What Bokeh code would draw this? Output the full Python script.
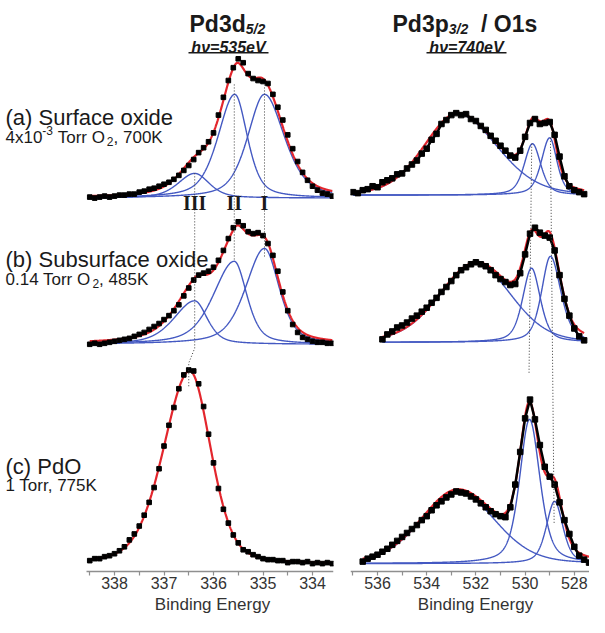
import numpy as np
from bokeh.plotting import figure
from bokeh.layouts import row
from bokeh.models import Range1d, FixedTicker, Label
from bokeh.embed import file_html
from bokeh.resources import INLINE

# ---------------- data ----------------
# Pd3d5/2 panel: energy grid (eV) and intensities above each spectrum's baseline
PD_E_START, PD_E_STOP, PD_E_STEP = 338.5, 333.6, 0.1
PD_A = [1, 0, 1, 2, 1, 2, 3, 3, 4, 4, 6, 7, 9, 10, 12, 14, 16, 19, 23, 28, 33, 39, 46, 51, 57,
        66, 84, 102, 119, 132, 141, 137, 126, 121, 119, 118, 116, 105, 92, 79, 64, 50, 37, 26, 18,
        12, 8, 5, 4, 2]
PD_B = [0, 1, 0, 1, 2, 3, 4, 5, 6, 8, 10, 12, 15, 18, 21, 25, 29, 34, 40, 49, 57, 65, 70, 72, 74,
        78, 85, 95, 107, 118, 124, 120, 114, 112, 113, 110, 102, 90, 74, 53, 34, 20, 12, 7, 5,
        3, 2, 2, 1, 1]
PD_C = [4, 6, 6, 8, 9, 11, 14, 18, 25, 31, 39, 50, 63, 78, 97, 120, 141, 159, 178, 192, 197, 196,
        183, 160, 132, 103, 77, 56, 42, 30, 22, 15, 13, 10, 8, 6, 5, 5, 4, 4, 2, 3, 3, 2, 3,
        1, 2, 1, 2, 1]
PD_OFFSETS = [378, 230, 7]          # stacking baselines of (a), (b), (c)

# fitted components: centre, height, left/right FWHM, Lorentzian fraction
PDA_CENTER, PDA_HEIGHT = [334.97, 335.57, 336.38], [105, 105, 25]
PDA_WL, PDA_WR, PDA_ETA = [0.80, 0.80, 0.80], [0.95, 0.60, 0.70], [0.5, 0.5, 0.5]
PDB_CENTER, PDB_HEIGHT = [334.97, 335.58, 336.38], [97, 84, 44]
PDB_WL, PDB_WR, PDB_ETA = [0.90, 1.00, 1.00], [0.70, 0.60, 0.60], [0.5, 0.5, 0.5]
PDC_CENTER, PDC_HEIGHT = [336.48], [196]
PDC_WL, PDC_WR, PDC_ETA = [1.25], [1.00], [0.3]

# Pd3p3/2 / O1s panel
O_STEP = 0.2
OA_START, OA_STOP = 537.0, 527.6
OB_START, OB_STOP = 535.8, 527.6
OC_START, OC_STOP = 536.6, 527.4
O_A = [3, 2, 5, 6, 9, 8, 13, 15, 17, 21, 22, 27, 31, 35, 42, 47, 56, 62, 72, 76, 81, 83, 81, 82,
       77, 75, 70, 66, 60, 55, 50, 45, 40, 38, 45, 59, 73, 77, 72, 73, 74, 61, 39, 19, 9, 5, 3, 1]
O_B = [3, 8, 11, 15, 17, 20, 24, 27, 31, 35, 40, 45, 51, 56, 62, 68, 73, 76, 79, 81, 79, 77, 73,
       68, 64, 61, 58, 59, 70, 89, 110, 116, 111, 108, 106, 93, 68, 44, 27, 14, 6, 2]
O_C = [2, 5, 7, 9, 12, 15, 19, 23, 27, 31, 35, 39, 44, 48, 54, 59, 63, 67, 70, 73, 72, 71, 68, 65,
       61, 57, 53, 50, 48, 47, 57, 80, 113, 147, 166, 146, 120, 98, 88, 80, 62, 44, 30, 17, 8, 4, 1]
O_OFFSETS = [381, 232, 8]

OA_CENTER, OA_HEIGHT = [532.75, 529.70, 529.00], [82, 52, 58]
OA_WL, OA_WR, OA_ETA = [3.2, 0.8, 0.8], [3.8, 0.8, 0.7], [0.2, 0.5, 0.5]
OB_CENTER, OB_HEIGHT = [532.00, 529.74, 528.97], [79, 75, 87]
OB_WL, OB_WR, OB_ETA = [3.5, 0.85, 0.85], [3.4, 0.85, 1.0], [0.2, 0.5, 0.5]
OC_CENTER, OC_HEIGHT = [532.75, 529.82, 528.80], [73, 146, 63]
OC_WL, OC_WR, OC_ETA = [3.5, 0.95, 0.8], [3.6, 1.0, 0.8], [0.2, 0.5, 0.5]

# peak-position guide lines (eV, intensity)
PD_GUIDES = [([334.97, 334.97], [493, 318]),
             ([335.58, 335.58], [493, 314]),
             ([336.38, 336.38, 336.50, 336.50], [403, 226, 211, 186])]
PD_GUIDE_LABELS = ["I", "II", "III"]
PD_GUIDE_LABEL_E = [334.97, 335.58, 336.38]
O_GUIDES = [([529.73, 529.84], [433, 201]),
            ([528.97, 528.82], [439, 49])]

PD_TICKS, PD_MINOR = [334, 335, 336, 337, 338], [333.5, 334.5, 335.5, 336.5, 337.5, 338.5]
O_TICKS, O_MINOR = [528, 530, 532, 534, 536], [527, 529, 531, 533, 535, 537]
X_TITLE = "Binding Energy"

# ---------------- styling / layout ----------------
BLUE, RED, INK, GUIDE = "#4459c2", "#e3262d", "#1a1a1a", "#3a3a3a"
TOP, REF_AXIS_Y, BOTTOM = 8, 586, 625   # page y: canvas top, reference axis line, canvas bottom
AXIS_PAGE = 579                          # where our axis line is drawn (room for the x title)
XTITLE_PAGE = 611.5                      # baseline of "Binding Energy"
L_PX_PER_EV, R_PX_PER_EV = 49.5, 24.6
L_FRAME_LEFT, R_FRAME_LEFT = 8, 358
L_FRAME_RIGHT, R_FRAME_RIGHT = 341, 597
L_E0 = 338 + (122 - L_FRAME_LEFT) / L_PX_PER_EV
R_E0 = 536 + (385 - R_FRAME_LEFT) / R_PX_PER_EV
H = BOTTOM - TOP
W1 = 350 - L_FRAME_LEFT
W2 = R_FRAME_RIGHT - 350


def lx(px):
    return L_E0 - (px - L_FRAME_LEFT) / L_PX_PER_EV


def rx(px):
    return R_E0 - (px - R_FRAME_LEFT) / R_PX_PER_EV


def Y(py):
    return REF_AXIS_Y - py


V_TOP = Y(TOP)
SCALE = (AXIS_PAGE - TOP) / V_TOP                  # px per intensity unit
V_BOTTOM = -(BOTTOM - AXIS_PAGE) / SCALE
V_XTITLE = -(XTITLE_PAGE - AXIS_PAGE) / SCALE

AR = {' ': 278, '(': 333, ')': 333, ',': 278, '-': 333, '.': 278, '/': 278, '=': 584, 'K': 667,
      'O': 778, 'P': 667, 'S': 667, 'T': 611, 'a': 556, 'b': 556, 'c': 500, 'd': 556, 'e': 556,
      'f': 278, 'i': 222, 'n': 556, 'o': 556, 'r': 333, 's': 500, 'u': 556, 'x': 500}
ARB = {' ': 278, '/': 278, 'O': 778, 'P': 667, 'd': 611, 'p': 611, 's': 556}


def tw(s, size, bold=False):
    tab = ARB if bold else AR
    return sum(tab.get(ch, 556) for ch in s) * size / 1000.0


def txt(p, x, y, s, size, style="normal", font="Liberation Sans", align="left",
        xoff=0, yoff=0, color=INK):
    p.add_layout(Label(x=x, y=y, text=s, text_font=font, text_font_size=f"{size}px",
                       text_font_style=style, text_align=align, text_baseline="alphabetic",
                       x_offset=xoff, y_offset=yoff, text_color=color))


def pieces(p, x, y, parts):
    off = 0.0
    for s, size, style, dy in parts:
        bold = "bold" in style
        lead = len(s) - len(s.lstrip(" "))
        off += tw(" " * lead, size, bold)
        body = s.lstrip(" ")
        txt(p, x, y, body, size, style=style, xoff=off, yoff=dy)
        off += tw(body, size, bold)


def pv(E, c, h, wl, wr, eta):
    w = np.where(E >= c, wl, wr)
    u = (E - c) / w
    return h * ((1 - eta) * np.exp(-4 * np.log(2) * u * u) + eta / (1 + 4 * u * u))


def spectrum(p, E, vals, off, centers, heights, wls, wrs, etas, comps_on, msize, band):
    E = np.asarray(E)
    Ed = np.linspace(E[0], E[-1], 900)
    comps = [pv(Ed, c, h, a, b, e) for c, h, a, b, e in zip(centers, heights, wls, wrs, etas)]
    if comps_on:
        for comp in comps:
            p.line(Ed, off + comp, color=BLUE, line_width=1.4)
    p.line(Ed, off + np.sum(comps, axis=0), color=RED, line_width=2.2)
    yv = off + np.asarray(vals, dtype=float)
    if band:
        p.line(E, yv, color="black", line_width=band)
    p.scatter(E, yv, marker="square", size=msize, color="black", line_color="black")


def make_fig(width, x_range, border_left, border_right):
    p = figure(width=width, height=H, x_range=x_range,
               y_range=Range1d(V_BOTTOM, V_TOP),
               output_backend="svg", toolbar_location=None, y_axis_location=None)
    p.min_border_left, p.min_border_right = border_left, border_right
    p.min_border_top, p.min_border_bottom = 0, 0
    p.xgrid.visible = False
    p.ygrid.visible = False
    p.outline_line_color = None
    p.background_fill_color = "white"
    p.border_fill_color = "white"
    ax = p.xaxis[0]
    ax.fixed_location = 0          # axis line sits on intensity 0, labels below it
    ax.axis_line_color = "#8f8f8f"
    ax.axis_line_width = 1.6
    ax.major_tick_line_color = "#8f8f8f"
    ax.minor_tick_line_color = "#8f8f8f"
    ax.major_tick_line_width = 1.2
    ax.minor_tick_line_width = 1.2
    ax.major_tick_in, ax.major_tick_out = 0, 4
    ax.minor_tick_in, ax.minor_tick_out = 0, 4
    ax.major_label_text_font = "Liberation Sans"
    ax.major_label_text_font_size = "16px"
    ax.major_label_text_color = "#333333"
    ax.major_label_standoff = 1
    return p


# ---------------- left panel: Pd3d5/2 ----------------
p1 = make_fig(W1, Range1d(L_E0, lx(L_FRAME_RIGHT)), 0, 350 - L_FRAME_RIGHT)
p1.xaxis[0].bounds = (lx(L_FRAME_RIGHT), lx(94))
p1.xaxis[0].ticker = FixedTicker(ticks=PD_TICKS, minor_ticks=PD_MINOR)

pd_E = np.round(np.arange(PD_E_START, PD_E_STOP - 1e-6, -PD_E_STEP), 2)
spectrum(p1, pd_E, PD_A, PD_OFFSETS[0], PDA_CENTER, PDA_HEIGHT, PDA_WL, PDA_WR, PDA_ETA, True, 4.6, 0)
spectrum(p1, pd_E, PD_B, PD_OFFSETS[1], PDB_CENTER, PDB_HEIGHT, PDB_WL, PDB_WR, PDB_ETA, True, 4.6, 0)
spectrum(p1, pd_E, PD_C, PD_OFFSETS[2], PDC_CENTER, PDC_HEIGHT, PDC_WL, PDC_WR, PDC_ETA, False, 4.6, 0)
for gx, gy in PD_GUIDES:
    p1.line(gx, gy, color=GUIDE, line_width=1, line_dash="1 2")
for lab, e in zip(PD_GUIDE_LABELS, PD_GUIDE_LABEL_E):
    txt(p1, e, Y(213), lab, 20, style="bold", font="Liberation Serif", align="center")

pieces(p1, lx(197), Y(32), [("Pd3d", 23, "bold", 0), ("5/2", 14, "bold italic", -5)])
txt(p1, lx(236), Y(56), "h\u03bd=535eV", 16, style="bold italic", align="center")
p1.line([lx(196), lx(276)], [Y(61), Y(61)], color=INK, line_width=1.5)

txt(p1, lx(13), Y(126), "(a) Surface oxide", 22)
pieces(p1, lx(13), Y(147), [("4x10", 17, "normal", 0), ("-3", 12, "normal", 7),
                            (" Torr O", 17, "normal", 0), ("2", 12, "normal", -4),
                            (", 700K", 17, "normal", 0)])
txt(p1, lx(13), Y(270), "(b) Subsurface oxide", 22)
pieces(p1, lx(13), Y(290), [("0.14 Torr O", 17, "normal", 0), ("2", 12, "normal", -4),
                            (", 485K", 17, "normal", 0)])
txt(p1, lx(13), Y(480), "(c) PdO", 22)
txt(p1, lx(13), Y(499), "1 Torr, 775K", 17)
txt(p1, lx(220), V_XTITLE, X_TITLE, 17, align="center", color="#333333")

# ---------------- right panel: Pd3p3/2 / O1s ----------------
p2 = make_fig(W2, Range1d(R_E0, rx(R_FRAME_RIGHT)), R_FRAME_LEFT - 350, 0)
p2.xaxis[0].ticker = FixedTicker(ticks=O_TICKS, minor_ticks=O_MINOR)

oa_E = np.round(np.arange(OA_START, OA_STOP - 1e-6, -O_STEP), 2)
ob_E = np.round(np.arange(OB_START, OB_STOP - 1e-6, -O_STEP), 2)
oc_E = np.round(np.arange(OC_START, OC_STOP - 1e-6, -O_STEP), 2)
spectrum(p2, oa_E, O_A, O_OFFSETS[0], OA_CENTER, OA_HEIGHT, OA_WL, OA_WR, OA_ETA, True, 5.5, 2.5)
spectrum(p2, ob_E, O_B, O_OFFSETS[1], OB_CENTER, OB_HEIGHT, OB_WL, OB_WR, OB_ETA, True, 5.5, 2.5)
spectrum(p2, oc_E, O_C, O_OFFSETS[2], OC_CENTER, OC_HEIGHT, OC_WL, OC_WR, OC_ETA, True, 5.5, 2.5)
for gx, gy in O_GUIDES:
    p2.line(gx, gy, color=GUIDE, line_width=1, line_dash="1 2")

pieces(p2, rx(400), Y(32), [("Pd3p", 23, "bold", 0), ("3/2", 14, "bold italic", -5),
                            ("  /  O1s", 23, "bold", 0)])
txt(p2, rx(474), Y(56), "h\u03bd=740eV", 16, style="bold italic", align="center")
p2.line([rx(434), rx(514)], [Y(61), Y(61)], color=INK, line_width=1.5)
txt(p2, rx(483), V_XTITLE, X_TITLE, 17, align="center", color="#333333")

layout = row(p1, p2)
open("out.html", "w").write(file_html(layout, INLINE))
